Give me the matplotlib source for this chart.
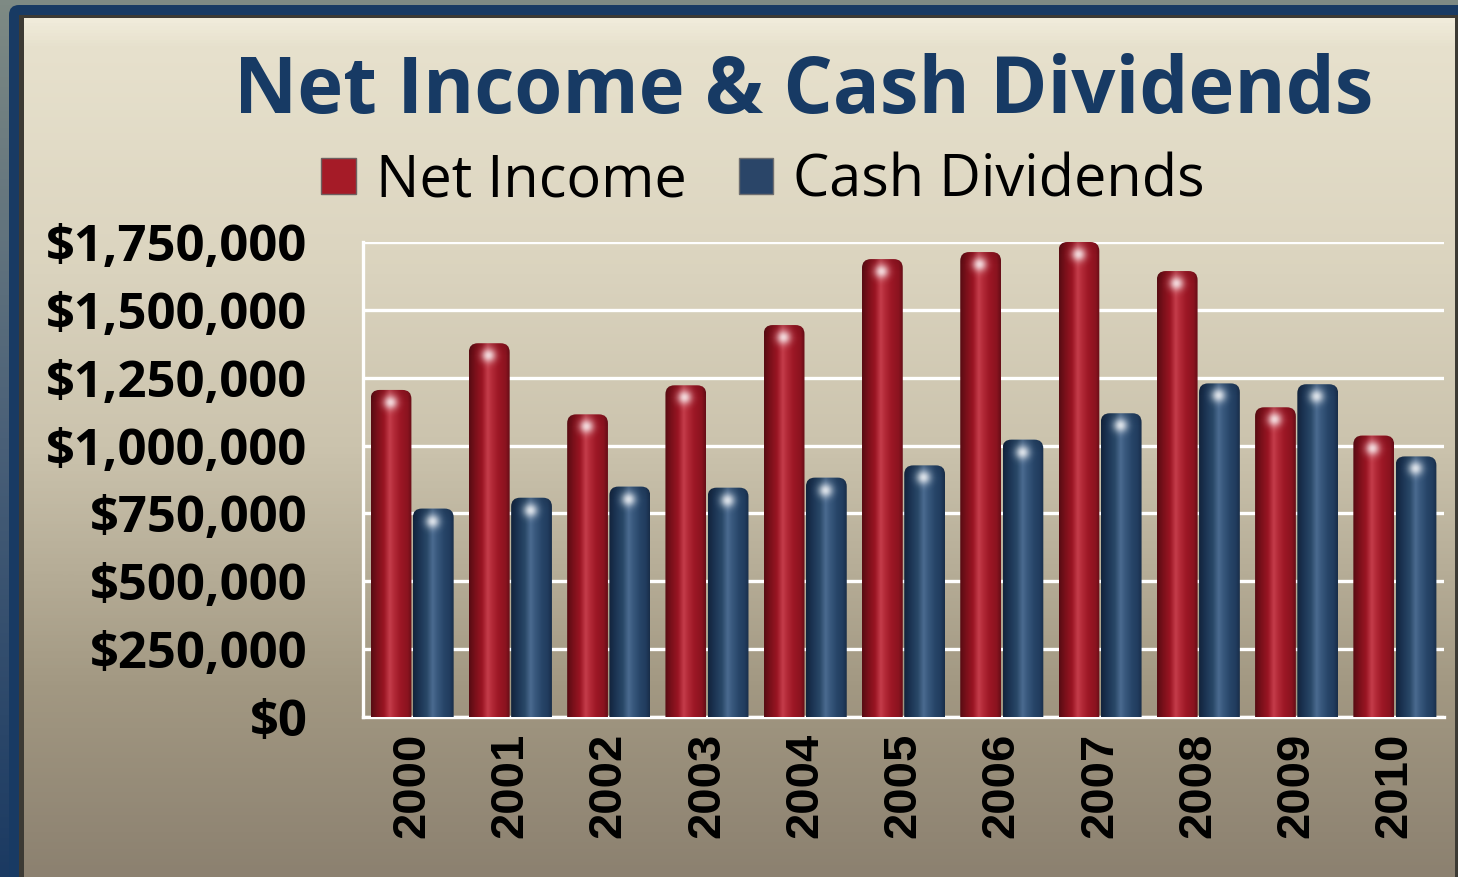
import numpy as np
import matplotlib
matplotlib.use("Agg")
import matplotlib.pyplot as plt
from matplotlib.patches import FancyBboxPatch, Rectangle, Patch
from matplotlib.colors import LinearSegmentedColormap

# data
years = ["2000", "2001", "2002", "2003", "2004", "2005",
         "2006", "2007", "2008", "2009", "2010"]
net_income = [1205000, 1377000, 1115000, 1222000, 1444000, 1687000,
              1713000, 1750000, 1643000, 1141000, 1037000]
cash_dividends = [768000, 808000, 849000, 845000, 882000, 927000,
                  1022000, 1119000, 1229000, 1226000, 960000]
y_ticks = [0, 250000, 500000, 750000, 1000000, 1250000, 1500000, 1750000]

RED_STOPS = [(0.0, "#560c13"), (0.15, "#7a101a"), (0.32, "#9a1523"),
             (0.46, "#c53d4b"), (0.56, "#b32a38"), (0.72, "#9c1725"),
             (0.9, "#8a131f"), (1.0, "#650e17")]
BLUE_STOPS = [(0.0, "#12233b"), (0.15, "#1b3352"), (0.34, "#294868"),
              (0.48, "#4b6b90"), (0.58, "#3a5a7f"), (0.76, "#274568"),
              (0.9, "#213c5e"), (1.0, "#182d48")]

W, H = 1458, 877
fig = plt.figure(figsize=(W / 100, H / 100), dpi=100)

# background: outer strip, dark blue frame, beige panel gradient
bg = fig.add_axes([0, 0, 1, 1], zorder=-10)
bg.axis("off")
outer = LinearSegmentedColormap.from_list("outer", ["#7e8a84", "#4a6078", "#1b3a62"])
bg.imshow(np.linspace(0, 1, 256).reshape(-1, 1), cmap=outer, extent=[0, W, H, 0],
          aspect="auto", interpolation="bicubic", zorder=0)
bg.add_patch(FancyBboxPatch((9, 5), W + 40, H + 40, boxstyle="round,pad=0,rounding_size=10",
                            fc="#183a63", ec="none", zorder=1))
bg.add_patch(Rectangle((19, 15), W, H, fc="#3c3a34", ec="none", zorder=2))
panel = LinearSegmentedColormap.from_list(
    "panel", [(0.0, "#f0ebda"), (0.03, "#e7e1cd"), (0.27, "#dcd5c0"), (0.5, "#cbc3ad"),
              (0.78, "#a29882"), (1.0, "#8c8170")])
bg.imshow(np.linspace(0, 1, 256).reshape(-1, 1), cmap=panel, extent=[24, W - 3, H, 18],
          aspect="auto", interpolation="bicubic", zorder=3)
bg.set_xlim(0, W)
bg.set_ylim(H, 0)

ax = fig.add_axes([363 / W, 1 - 717 / H, (1444 - 363) / W, (717 - 242) / H])
ax.set_facecolor("none")
x = np.arange(len(years))
bw = 0.415
off = 0.215

ax.set_yticks(y_ticks)
ax.set_yticklabels(["${:,}".format(v) for v in y_ticks], fontfamily="Open Sans",
                   fontweight="bold", fontsize=36.5)
ax.set_xticks(x)
ax.set_xticklabels(years, rotation=90, fontfamily="Liberation Sans",
                   fontweight="bold", fontsize=34)
ax.tick_params(axis="y", length=0, pad=40)
ax.tick_params(axis="x", length=0, pad=11)
ax.grid(axis="y", color="white", linewidth=2.4)
ax.set_axisbelow(True)
for s in ["top", "right"]:
    ax.spines[s].set_visible(False)
for s in ["left", "bottom"]:
    ax.spines[s].set_color("white")
    ax.spines[s].set_linewidth(2.4)

bars_ni = ax.bar(x - off, net_income, bw, color="none")
bars_cd = ax.bar(x + off, cash_dividends, bw, color="none")

# pixel scale, to keep rounded corners round
px_x = len(years) / (1444 - 363)
px_y = 1750000 / (717 - 242)
aspect = px_y / px_x


def shade_bars(bars, stops):
    cmap = LinearSegmentedColormap.from_list("cyl", stops)
    grad = cmap(np.linspace(0, 1, 256)).reshape(1, 256, 4)
    for b in bars:
        x0 = b.get_x()
        w = b.get_width()
        h = b.get_height()
        r = 9 * px_x
        patch = FancyBboxPatch((x0, -30 * px_y), w, h + 30 * px_y,
                               boxstyle="round,pad=0,rounding_size=%f" % r,
                               mutation_aspect=aspect, fc="none", ec="none")
        ax.add_patch(patch)
        im = ax.imshow(grad, extent=[x0, x0 + w, 0, h], aspect="auto",
                       interpolation="bicubic", zorder=3)
        im.set_clip_path(patch)
        # soft darker rim at the very top (row 0 is the top), then the glow
        rim = np.zeros((30, 1, 4))
        rim[..., 3] = (np.linspace(0.22, 0.0, 30) ** 1.5).reshape(-1, 1)
        rim_im = ax.imshow(rim, extent=[x0, x0 + w, h - 14 * px_y, h], aspect="auto",
                           interpolation="bicubic", zorder=3.5)
        rim_im.set_clip_path(patch)
        ny, nx = 60, 60
        yy, xx = np.mgrid[0:ny, 0:nx]
        cx, cy = nx * 0.47, ny * 0.3
        d2 = ((xx - cx) / (nx * 0.17)) ** 2 + ((yy - cy) / (ny * 0.17)) ** 2
        glow = np.zeros((ny, nx, 4))
        glow[..., :3] = 1.0
        glow[..., 3] = np.exp(-d2) * 0.8
        gim = ax.imshow(glow, extent=[x0, x0 + w, h - 40 * px_y, h], aspect="auto",
                        interpolation="bicubic", zorder=4)
        gim.set_clip_path(patch)


shade_bars(bars_ni, RED_STOPS)
shade_bars(bars_cd, BLUE_STOPS)
ax.set_xlim(-0.5, len(years) - 0.5)
ax.set_ylim(0, 1750000)

fig.text(0.551, 1 - 92 / H, "Net Income & Cash Dividends", ha="center", va="center",
         fontfamily="Open Sans", fontweight="bold", fontsize=56, color="#173a64")

handles = [Patch(facecolor="#a51b27", edgecolor="#6e6060", linewidth=1.0),
           Patch(facecolor="#2a4568", edgecolor="#6e6e70", linewidth=1.0)]
fig.legend(handles, ["Net Income", "Cash Dividends"], loc="center",
           bbox_to_anchor=(763 / W, 1 - 181 / H), ncol=2, frameon=False,
           prop={"family": "Open Sans", "size": 41.5},
           handlelength=0.6, handleheight=0.6, handletextpad=0.35,
           columnspacing=0.9)

fig.savefig("out.png", dpi=100)
